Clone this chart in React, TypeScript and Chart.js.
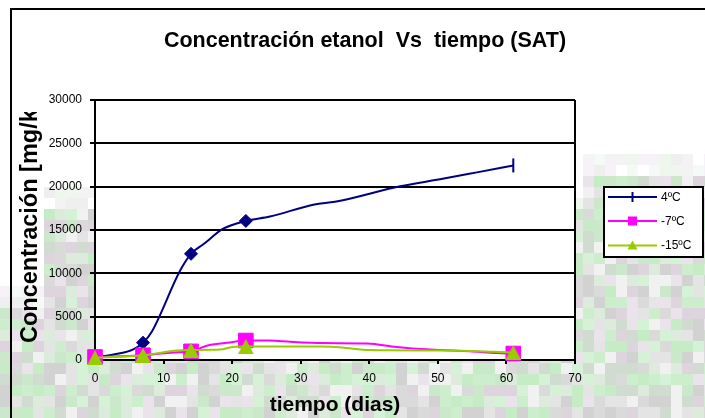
import React, { useEffect, useRef } from "react";
import { Chart, registerables } from "chart.js";

Chart.register(...registerables);

// ---------- texts ----------
const CHART_TITLE = "Concentración etanol  Vs  tiempo (SAT)";
const X_AXIS_TITLE = "tiempo (dias)";
const Y_AXIS_TITLE = "Concentración [mg/kg]";

// ---------- axes ----------
const X_MIN = 0;
const X_MAX = 70;
const X_STEP = 10;
const Y_MIN = 0;
const Y_MAX = 30000;
const Y_STEP = 5000;

// ---------- series ----------
const SERIES_NAMES = ["4ºC", "-7ºC", "-15ºC"];
const SAMPLE_DAYS = [0, 7, 14, 22, 61];

const days4C = [0, 3.5, 5.5, 7, 8.3, 12.4, 14, 15.8, 18.7, 22, 25.5, 32, 35, 44.5, 50.3, 55.7, 61];
const conc4C = [300, 750, 1200, 2000, 3300, 10300, 12250, 13350, 15150, 16050, 16550, 17950, 18250, 20050, 20850, 21650, 22450];

const days7C = [0, 7, 11, 14, 16.3, 19.3, 22, 25.5, 28.5, 33.3, 39.7, 44, 48.9, 54.7, 58.6, 61];
const conc7C = [350, 550, 850, 1000, 1650, 1980, 2250, 2250, 2100, 1950, 1900, 1500, 1200, 1000, 800, 750];

const days15C = [0, 7, 12, 14, 18.3, 20, 22, 33, 36, 40, 51, 58, 61];
const conc15C = [250, 550, 1100, 1150, 1200, 1500, 1550, 1550, 1450, 1150, 1100, 950, 850];

// ---------- styles ----------
const NAVY = "#000080";
const MAGENTA = "#ff00ff";
const LIME = "#99cc00";
const FONT = '"Liberation Sans", Arial, Helvetica, sans-serif';

function makeTriangle(w: number, h: number, color: string) {
  const c = document.createElement("canvas");
  c.width = w;
  c.height = h;
  const g = c.getContext("2d")!;
  g.fillStyle = color;
  g.beginPath();
  g.moveTo(w / 2, 0);
  g.lineTo(w, h);
  g.lineTo(0, h);
  g.closePath();
  g.fill();
  return c;
}

function hash(i: number, j: number) {
  let h = (Math.imul(i, 374761393) + Math.imul(j, 668265263)) | 0;
  h = Math.imul(h ^ (h >>> 13), 1274126177);
  return (h ^ (h >>> 16)) >>> 0;
}

const MOSAIC = ["#cdeecd", "#d6f2d6", "#cbe8cb", "#dadada", "#d2d2d2", "#e4e4e4", "#ddd4dd", "#ebe3eb", "#f1f1f1", "#c6ecc6", "#dcebdc", "#d0dcd0"];
const MOSAIC_LIGHT = ["#f6faf6", "#f3f3f3", "#ffffff", "#eef6ee", "#f7f2f7", "#efefef"];

function mosaicStart(px: number) {
  if (px < 44) return 286;
  if (px >= 580) return 154;
  return 187;
}

const decor = {
  id: "decor",
  beforeDraw(chart: any) {
    const ctx = chart.ctx as CanvasRenderingContext2D;
    const W = chart.width;
    const H = chart.height;
    ctx.save();
    ctx.fillStyle = "#ffffff";
    ctx.fillRect(0, 0, W, H);
    const B = 11;
    for (let bx = 0; bx * B < W; bx++) {
      const px = bx * B;
      const start = mosaicStart(px);
      for (let by = 0; by * B < H; by++) {
        const py = by * B;
        if (py + B <= start) continue;
        const h = hash(bx, by);
        const light = py < start + 2 * B;
        const pal = light ? MOSAIC_LIGHT : MOSAIC;
        ctx.fillStyle = pal[h % pal.length];
        ctx.fillRect(px, Math.max(py, start), B, B);
      }
    }
    // outer frame
    ctx.fillStyle = "#000";
    ctx.fillRect(10, 8, 2, H);
    ctx.fillRect(10, 8, W, 2);
    // plot area
    const a = chart.chartArea;
    ctx.fillStyle = "#ffffff";
    ctx.fillRect(a.left, a.top, a.right - a.left, a.bottom - a.top);
    ctx.restore();
  },
  afterDraw(chart: any) {
    const ctx = chart.ctx as CanvasRenderingContext2D;
    const a = chart.chartArea;
    ctx.save();
    // right border of plot area
    ctx.strokeStyle = "#000";
    ctx.lineWidth = 2;
    ctx.beginPath();
    ctx.moveTo(a.right, a.top);
    ctx.lineTo(a.right, a.bottom);
    ctx.stroke();

    // chart title
    ctx.fillStyle = "#000";
    ctx.font = `bold 21.5px ${FONT}`;
    ctx.textAlign = "center";
    ctx.textBaseline = "alphabetic";
    ctx.fillText(CHART_TITLE, 365, 47);

    // x axis title
    ctx.font = `bold 21px ${FONT}`;
    ctx.fillText(X_AXIS_TITLE, (a.left + a.right) / 2, 411);

    // y axis title (clipped like the original)
    ctx.save();
    ctx.beginPath();
    ctx.rect(0, 112, 44, 300);
    ctx.clip();
    ctx.translate(37, 343);
    ctx.rotate(-Math.PI / 2);
    ctx.font = `bold 23.5px ${FONT}`;
    ctx.textAlign = "left";
    ctx.fillText(Y_AXIS_TITLE, 0, 0);
    ctx.restore();

    // legend
    const lx = 603, ly = 186, lw = 101, lh = 72;
    ctx.fillStyle = "#fff";
    ctx.fillRect(lx, ly, lw, lh);
    ctx.strokeStyle = "#000";
    ctx.lineWidth = 2;
    ctx.strokeRect(lx + 1, ly + 1, lw - 2, lh - 2);
    const rows = [197, 221, 245.5];
    const colors = [NAVY, MAGENTA, LIME];
    chart.data.datasets.forEach((ds: any, i: number) => {
      const y = rows[i];
      const c = colors[i];
      ctx.strokeStyle = c;
      ctx.lineWidth = 2;
      ctx.beginPath();
      ctx.moveTo(608, y);
      ctx.lineTo(657, y);
      ctx.stroke();
      const mx = 632.5;
      ctx.fillStyle = c;
      if (i === 0) {
        ctx.beginPath();
        ctx.moveTo(mx, y - 5);
        ctx.lineTo(mx, y + 5);
        ctx.stroke();
      } else if (i === 1) {
        ctx.fillRect(mx - 4.5, y - 4.5, 9, 9);
      } else {
        ctx.beginPath();
        ctx.moveTo(mx, y - 5);
        ctx.lineTo(mx + 5, y + 4);
        ctx.lineTo(mx - 5, y + 4);
        ctx.closePath();
        ctx.fill();
      }
      ctx.fillStyle = "#000";
      ctx.font = `12px ${FONT}`;
      ctx.textAlign = "left";
      ctx.textBaseline = "middle";
      ctx.fillText(ds.label, 661, y + 0.5);
    });
    ctx.restore();
  },
};

const toPts = (xs: number[], ys: number[]) => xs.map((x, i) => ({ x, y: ys[i] }));
const isSample = (c: any) => c.raw != null && SAMPLE_DAYS.includes(c.raw.x);
const isLast = (c: any) => c.raw != null && c.raw.x === SAMPLE_DAYS[SAMPLE_DAYS.length - 1];

export default function App() {
  const ref = useRef<HTMLCanvasElement>(null);

  useEffect(() => {
    const canvas = ref.current!;
    const tri = makeTriangle(16, 15, LIME);
    const chart = new Chart(canvas, {
      type: "line",
      data: {
        datasets: [
          {
            label: SERIES_NAMES[0],
            data: toPts(days4C, conc4C),
            borderColor: NAVY,
            backgroundColor: NAVY,
            borderWidth: 2,
            cubicInterpolationMode: "monotone",
            pointRadius: (c: any) => (isSample(c) ? (isLast(c) ? 7 : 6.5) : 0),
            pointStyle: (c: any) => (isLast(c) ? "line" : "rectRot"),
            pointRotation: (c: any) => (isLast(c) ? 90 : 0),
            pointBorderWidth: (c: any) => (isLast(c) ? 2 : 1),
            pointBorderColor: NAVY,
            pointBackgroundColor: NAVY,
            order: 3,
            clip: false,
          } as any,
          {
            label: SERIES_NAMES[1],
            data: toPts(days7C, conc7C),
            borderColor: MAGENTA,
            backgroundColor: MAGENTA,
            borderWidth: 2,
            cubicInterpolationMode: "monotone",
            pointRadius: (c: any) => (isSample(c) ? 10.3 : 0),
            pointStyle: "rect",
            pointBorderWidth: 1,
            pointBorderColor: MAGENTA,
            pointBackgroundColor: MAGENTA,
            order: 2,
            clip: false,
          } as any,
          {
            label: SERIES_NAMES[2],
            data: toPts(days15C, conc15C),
            borderColor: LIME,
            backgroundColor: LIME,
            borderWidth: 2,
            cubicInterpolationMode: "monotone",
            pointRadius: (c: any) => (isSample(c) ? 8 : 0),
            pointStyle: tri,
            order: 1,
            clip: false,
          } as any,
        ],
      },
      options: {
        responsive: false,
        animation: false,
        devicePixelRatio: 1,
        events: [],
        layout: { padding: { left: 40, right: 130, top: 100, bottom: 28 } },
        plugins: {
          legend: { display: false },
          tooltip: { enabled: false },
          title: { display: false },
        },
        scales: {
          x: {
            type: "linear",
            min: X_MIN,
            max: X_MAX,
            ticks: {
              stepSize: X_STEP,
              color: "#000",
              font: { family: FONT, size: 12 },
              padding: 7,
              maxRotation: 0,
              callback: (v: any) => String(v),
            },
            grid: {
              display: true,
              drawOnChartArea: false,
              drawTicks: true,
              tickLength: 4,
              color: "#000",
              lineWidth: 2,
            },
            border: { display: true, color: "#000", width: 2 },
            afterFit: (s: any) => {
              s.height = 30;
            },
          },
          y: {
            type: "linear",
            min: Y_MIN,
            max: Y_MAX,
            ticks: {
              stepSize: Y_STEP,
              color: "#000",
              font: { family: FONT, size: 12 },
              padding: 8,
              callback: (v: any) => String(v),
            },
            grid: {
              display: true,
              drawTicks: true,
              tickLength: 5,
              color: "#000",
              lineWidth: 2,
            },
            border: { display: true, color: "#000", width: 2 },
            afterFit: (s: any) => {
              s.width = 55;
            },
          },
        },
      } as any,
      plugins: [decor],
    });
    return () => chart.destroy();
  }, []);

  return (
    <div style={{ position: "fixed", left: 0, top: 0, width: 705, height: 418, background: "#fff" }}>
      <canvas ref={ref} width={705} height={418} style={{ display: "block", width: 705, height: 418 }} />
    </div>
  );
}
